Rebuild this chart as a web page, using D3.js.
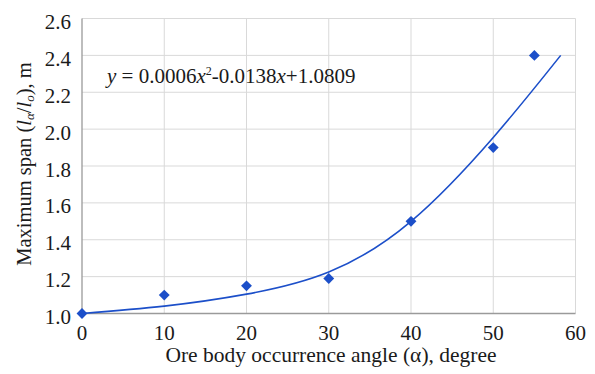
<!DOCTYPE html>
<html>
<head>
<meta charset="utf-8">
<script src="https://cdn.jsdelivr.net/npm/d3@7"></script>
<style>
  body { margin: 0; background: #fff; }
</style>
</head>
<body>
<svg id="chart" width="595" height="374"></svg>
<script>
// measured points
const angles = [0, 10, 20, 30, 40, 50, 55]
const spans = [1.0, 1.1, 1.15, 1.19, 1.5, 1.9, 2.4]

// trend line as drawn in the picture
const trendX = [0, 10, 20, 30, 40, 50, 58.2]
const trendY = [1.0, 1.04, 1.105, 1.225, 1.5, 1.955, 2.40]

const xTicks = [0, 10, 20, 30, 40, 50, 60]
const yTicks = [1.0, 1.2, 1.4, 1.6, 1.8, 2.0, 2.2, 2.4, 2.6]

const blue = '#1c4fc9'
const ink = '#1a1a1a'

const svg = d3.select('#chart')

const x = d3.scaleLinear().domain([0, 60]).range([82, 575.5])
const y = d3.scaleLinear().domain([1.0, 2.6]).range([313.5, 18.5])

const label = (sel, size) => sel
  .attr('fill', ink)
  .style('font-family', '"Liberation Serif"')
  .style('font-size', (size || 21) + 'px')

// grid
svg.append('g')
  .selectAll('line')
  .data(xTicks.slice(1))
  .join('line')
  .attr('x1', d => x(d)).attr('x2', d => x(d))
  .attr('y1', y(1.0)).attr('y2', y(2.6))
  .attr('stroke', '#d9d9d9').attr('stroke-width', 1)

svg.append('g')
  .selectAll('line')
  .data(yTicks.slice(1))
  .join('line')
  .attr('x1', x(0)).attr('x2', x(60))
  .attr('y1', d => y(d)).attr('y2', d => y(d))
  .attr('stroke', '#d9d9d9').attr('stroke-width', 1)

// axis lines
svg.append('line')
  .attr('x1', x(0)).attr('x2', x(0)).attr('y1', y(1.0)).attr('y2', y(2.6))
  .attr('stroke', '#9a9a9a').attr('stroke-width', 1.3)
svg.append('line')
  .attr('x1', x(0)).attr('x2', x(60)).attr('y1', y(1.0)).attr('y2', y(1.0))
  .attr('stroke', '#9a9a9a').attr('stroke-width', 1.3)

// tick labels
svg.append('g')
  .selectAll('text')
  .data(yTicks)
  .join('text')
  .attr('x', 71)
  .attr('y', d => y(d))
  .attr('dy', '0.5em')
  .attr('text-anchor', 'end')
  .call(label, 21)
  .text(d3.format('.1f'))

svg.append('g')
  .selectAll('text')
  .data(xTicks)
  .join('text')
  .attr('x', d => x(d))
  .attr('y', 339.5)
  .attr('text-anchor', 'middle')
  .call(label, 21)
  .text(d => d)

// axis titles
svg.append('text')
  .attr('x', 331).attr('y', 362)
  .attr('text-anchor', 'middle')
  .call(label, 21.5)
  .text('Ore body occurrence angle (\u03b1), degree')

const yt = svg.append('text')
  .attr('transform', 'translate(30.5, 164) rotate(-90)')
  .attr('text-anchor', 'middle')
  .call(label, 20.5)
yt.append('tspan').text('Maximum span (')
yt.append('tspan').style('font-style', 'italic').text('l')
yt.append('tspan').style('font-size', '13px').style('font-style', 'italic').attr('dy', 3).text('\u03b1')
yt.append('tspan').attr('dy', -3).text('/')
yt.append('tspan').style('font-style', 'italic').text('l')
yt.append('tspan').style('font-size', '13px').style('font-style', 'italic').attr('dy', 3).text('o')
yt.append('tspan').attr('dy', -3).text('), m')

// trend line
svg.append('path')
  .datum(d3.zip(trendX, trendY))
  .attr('fill', 'none')
  .attr('stroke', blue)
  .attr('stroke-width', 1.6)
  .attr('d', d3.line().x(d => x(d[0])).y(d => y(d[1])).curve(d3.curveNatural))

// markers
svg.append('g')
  .selectAll('path')
  .data(d3.zip(angles, spans))
  .join('path')
  .attr('transform', d => `translate(${x(d[0])},${y(d[1])})`)
  .attr('d', d3.symbol().type(d3.symbolDiamond2).size(75))
  .attr('fill', blue)

// equation
const eq = svg.append('text')
  .attr('x', 107).attr('y', 83)
  .call(label, 21)
eq.append('tspan').style('font-style', 'italic').text('y')
eq.append('tspan').text(' = 0.0006')
eq.append('tspan').style('font-style', 'italic').text('x')
eq.append('tspan').style('font-size', '12px').attr('dy', -8).text('2')
eq.append('tspan').attr('dy', 8).text('-0.0138')
eq.append('tspan').style('font-style', 'italic').text('x')
eq.append('tspan').text('+1.0809')
</script>
</body>
</html>
